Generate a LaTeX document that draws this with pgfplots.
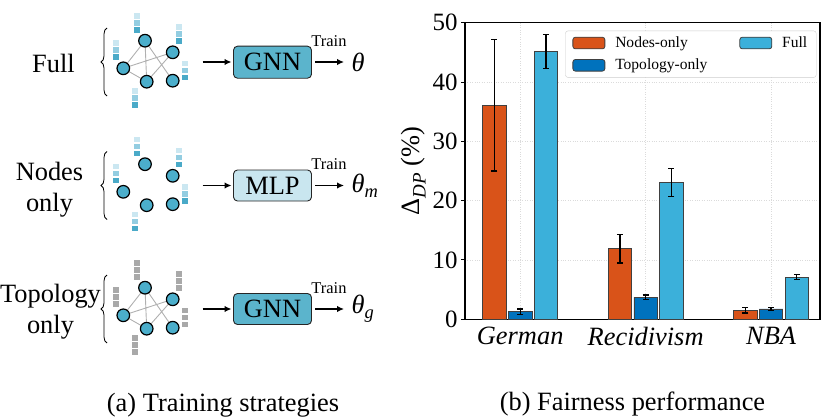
\documentclass[border=0pt]{standalone}
\usepackage{pgfplots}
\pgfplotsset{compat=1.18}
\usepackage{fontspec}
\setmainfont{Liberation Serif}
\usetikzlibrary{decorations.pathreplacing,arrows.meta}

\definecolor{cNodes}{HTML}{D95319}
\definecolor{cTopo}{HTML}{0072BD}
\definecolor{cFull}{HTML}{3BB0DA}
\definecolor{nodefill}{HTML}{4BAECB}
\definecolor{fA}{HTML}{CBE7F1}
\definecolor{fB}{HTML}{93CDE1}
\definecolor{fC}{HTML}{4AAAC8}
\definecolor{gnnfill}{HTML}{5BB4CC}
\definecolor{mlpfill}{HTML}{C9E6EF}
\definecolor{featgray}{HTML}{A9A9A9}
\definecolor{edgegray}{HTML}{B0B0B0}

\newcommand{\fs}[1]{\fontsize{#1}{#1}\selectfont}

% one stack of three feature squares, top at (#1,#2)
\newcommand{\stack}[5]{%
  \fill[#3] (#1-2.8,#2) rectangle ++(5.6,5.6);
  \fill[#4] (#1-2.8,#2+7) rectangle ++(5.6,5.6);
  \fill[#5] (#1-2.8,#2+14) rectangle ++(5.6,5.6);}

% a small graph: #1 row shift, #2 edges on/off, #3-#5 square colours
\newcommand{\graphrow}[5]{%
  \begin{scope}[shift={(0,#1)}]
    \coordinate (T) at (145,40.7);
    \coordinate (RT) at (172.7,52.3);
    \coordinate (L) at (123.3,68.3);
    \coordinate (B) at (146.7,81.7);
    \coordinate (RB) at (172.7,80.7);
    \ifnum#2=1
      \draw[edgegray, line width=0.9bp] (L)--(T) (L)--(RT) (L)--(B) (T)--(B) (T)--(RB) (RT)--(B);
    \fi
    \stack{137}{13}{#3}{#4}{#5}
    \stack{179}{24}{#3}{#4}{#5}
    \stack{116}{40}{#3}{#4}{#5}
    \stack{185}{60.7}{#3}{#4}{#5}
    \stack{135}{88}{#3}{#4}{#5}
    \foreach \p in {T,RT,L,B,RB}
      \draw[fill=nodefill, line width=1.2bp] (\p) circle[radius=6.3bp];
    \draw[decorate, decoration={brace,amplitude=6bp}, line width=0.8bp] (107,96) -- (107,28);
    \draw[-{Latex[length=7bp,width=6.5bp]}, line width=1.5bp] (202.7,62) -- (231.5,62);
    \draw[-{Latex[length=7bp,width=6.5bp]}, line width=1.5bp] (315,62) -- (344,62);
    \node[font=\fs{16.5}] at (329,41) {Train};
  \end{scope}}

\begin{document}
\begin{tikzpicture}
\useasboundingbox (0bp,0bp) rectangle (830bp,-420bp);

\begin{scope}[x=1bp, y=-1bp]
  \graphrow{0}{1}{fA}{fB}{fC}
  \graphrow{123.5}{0}{fA}{fB}{fC}
  \graphrow{247}{1}{featgray}{featgray}{featgray}

  \node[font=\fs{26.5}] at (53.5,63) {Full};
  \node[font=\fontsize{26.5}{31}\selectfont, align=center] at (49.5,190) {Nodes\\only};
  \node[font=\fontsize{26.5}{31}\selectfont, align=center] at (50.5,312) {Topology\\only};

  \node[draw=black!85, fill=gnnfill, rounded corners=4bp, minimum width=78bp, minimum height=32bp,
        inner sep=0pt, line width=0.9bp, font=\fs{26.5}] at (272.5,62.2) {GNN};
  \node[draw=black!85, fill=mlpfill, rounded corners=4bp, minimum width=78bp, minimum height=31bp,
        inner sep=0pt, line width=0.9bp, font=\fs{26.5}] at (272.5,185.5) {MLP};
  \node[draw=black!85, fill=gnnfill, rounded corners=4bp, minimum width=78bp, minimum height=31bp,
        inner sep=0pt, line width=0.9bp, font=\fs{26.5}] at (272.5,309) {GNN};

  \node[font=\fs{26.5}\itshape, anchor=west, inner sep=0pt] at (351.5,62) {θ};
  \node[font=\fs{26.5}\itshape, anchor=west, inner sep=0pt] at (351.5,185.5) {θ\raisebox{-5bp}{\fs{18.5}m}};
  \node[font=\fs{26.5}\itshape, anchor=west, inner sep=0pt] at (351.5,309) {θ\raisebox{-5bp}{\fs{18.5}g}};

  \node[font=\fs{26.5}] at (223,405) {(a) Training strategies};
  \node[font=\fs{26.5}] at (632.5,404) {(b) Fairness performance};
\end{scope}

\begin{axis}[
    at={(465bp,-319.3bp)}, anchor=south west,
    scale only axis, width=355bp, height=296.6bp,
    ybar,
    ymin=0, ymax=50, ytick={0,10,20,30,40,50},
    xmin=-0.44, xmax=2.39,
    xtick={0,1,2}, xticklabels={German,Recidivism,NBA},
    xticklabel style={font=\fs{26.5}\itshape},
    yticklabel style={font=\fs{25}},
    /pgf/number format/assume math mode=true,
    ymajorgrids, xmajorgrids,
    major grid style={dotted, draw=black!14, line width=0.5bp},
    axis line style={line width=1.4bp},
    tick align=outside,
    ytick pos=left,
    xtick style={draw=none},
    ytick style={line width=1bp, black},
    major tick length=4bp,
    ylabel={Δ\raisebox{-0.25em}{\fs{19}\itshape DP} (\%)},
    ylabel style={font=\fs{26.5}, at={(axis description cs:-0.146,0.5)}, anchor=center},
    bar width=0.187,
    error bars/y dir=both, error bars/y explicit,
    error bars/error bar style={line width=1.2bp, black},
    error bars/error mark options={rotate=90, mark size=3bp, line width=1.2bp, black},
    legend columns=2,
    legend cell align=left,
    legend style={at={(0.99,0.973)}, anchor=north east, draw=black!20, rounded corners=2.5bp,
        font=\fs{15.6}, /tikz/every even column/.append style={column sep=30bp},
        /tikz/every odd column/.append style={column sep=8bp},
        inner xsep=7bp, inner ysep=4bp, row sep=6bp},
    legend image code/.code={\draw[#1] (0bp,-5.8bp) rectangle (32bp,5.8bp);},
  ]
  \addplot[bar shift=-0.205, fill=cNodes, draw=black!75, line width=0.8bp]
    coordinates {(0,36.1) +- (0,11.1) (1,11.9) +- (0,2.4) (2,1.5) +- (0,0.45)};
  \addlegendentry{Nodes-only}
  \addplot[bar shift=0.205, fill=cFull, draw=black!75, line width=0.8bp]
    coordinates {(0,45.1) +- (0,2.85) (1,23.1) +- (0,2.35) (2,7.08) +- (0,0.42)};
  \addlegendentry{Full}
  \addplot[bar shift=0, fill=cTopo, draw=black!75, line width=0.8bp]
    coordinates {(0,1.29) +- (0,0.45) (1,3.7) +- (0,0.4) (2,1.74) +- (0,0.28)};
  \addlegendentry{Topology-only}
\end{axis}
\end{tikzpicture}
\end{document}
